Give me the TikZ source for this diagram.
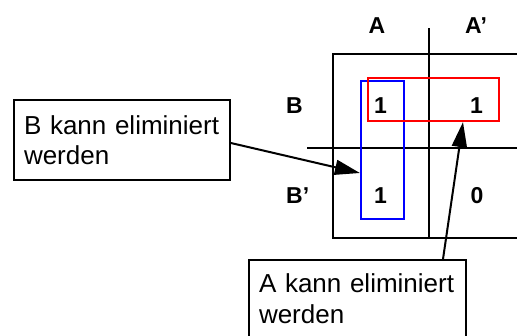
\documentclass[tikz,border=0pt]{standalone}
\usepackage{fontspec}
\setmainfont{Liberation Sans}
\usetikzlibrary{arrows.meta}
\tikzset{
  grid/.style={line width=2.4pt, black},
  callout/.style={draw, line width=1.8pt, rectangle, inner sep=0pt, align=left,
     font=\fontsize{26}{30.5}\selectfont},
  lbl/.style={font=\fontsize{23}{25}\selectfont\bfseries, inner sep=0pt, anchor=base},
  cell/.style={font=\fontsize{23}{25}\selectfont\bfseries, inner sep=0pt, anchor=base},
  grp/.style={draw, line width=2.2pt, rectangle, inner sep=0pt},
  pointer/.style={line width=2pt, -{Triangle[length=25pt, width=15pt]}}
}
\begin{document}
\begin{tikzpicture}[x=1pt,y=-1pt]
\useasboundingbox (0,0) rectangle (517,335);
\clip (0,0) rectangle (517,335);
% grid
\draw[grid] (520,54) -- (333,54) -- (333,238) -- (520,238);
\draw[grid] (429,28) -- (429,238);
\draw[grid] (307,148) -- (520,148);
% labels
\node[lbl] (la) at (377,33) {A};
\node[lbl, anchor=base west] (lap) at (465,33) {A’};
\node[lbl, anchor=base west] (lb) at (286,113) {B};
\node[lbl, anchor=base west] (lbp) at (286,203) {B’};
% cells
\node[cell] (c11) at (380.5,113) {1};
\node[cell] (c12) at (476.5,113) {1};
\node[cell] (c21) at (380.5,203) {1};
\node[cell] (c22) at (477,203) {0};
% groups
\node[grp, draw=blue, minimum width=43, minimum height=138] (blue) at (382.5,150) {};
\node[grp, draw=red, minimum width=131, minimum height=43] (red) at (433.5,99.5) {};
% callouts
\node[callout, minimum width=216, minimum height=80, text width=196] (boxb) at (122,140)
  {B kann eliminiert\\werden};
\node[callout, minimum width=217, minimum height=77, text width=197] (boxa) at (357.5,298.5)
  {A kann eliminiert\\werden};
% pointers
\draw[pointer] ([yshift=-3pt]boxb.east) -- ([yshift=-23pt]blue.west);
\draw[pointer] ([xshift=85.5pt]boxa.north) -- ([xshift=29.5pt]red.south);
\end{tikzpicture}
\end{document}
